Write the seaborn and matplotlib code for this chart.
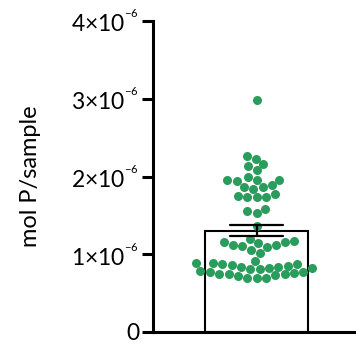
import numpy as np
import pandas as pd
import matplotlib
matplotlib.use("Agg")
import matplotlib.pyplot as plt
import seaborn as sns

# --- values (mol P per sample, in units of 1e-6) ---
upper_vals = [2.98, 2.26, 2.23, 2.16, 2.14, 2.08, 1.94, 2.00, 1.96, 1.96, 1.96,
              1.86, 1.84, 1.87, 1.89, 1.73, 1.74, 1.78, 1.73, 1.75, 1.53, 1.58,
              1.56, 1.36]
middle_vals = [1.20, 1.17, 1.12, 1.16, 1.10, 1.14, 1.12, 1.09, 1.16, 1.06, 1.01]
lower_vals = [0.91, 0.83, 0.75, 0.79, 0.82, 0.82, 0.81, 0.85, 0.88, 0.84, 0.89,
              0.81, 0.86, 0.87, 0.89, 0.70, 0.70, 0.74, 0.70, 0.76, 0.77, 0.72,
              0.73, 0.75, 0.77]

y_ticks = [0, 1e-6, 2e-6, 3e-6, 4e-6]
y_tick_labels = ["0", r"$1{\times}10^{{}^{-6}}$", r"$2{\times}10^{{}^{-6}}$",
                 r"$3{\times}10^{{}^{-6}}$", r"$4{\times}10^{{}^{-6}}$"]
y_label = "mol P/sample"
point_color = "#2a9d5c"

values = np.array(upper_vals + middle_vals + lower_vals) * 1e-6
df = pd.DataFrame({"group": [""] * len(values), "mol": values})

sns.set_style("ticks")
plt.rcParams["font.family"] = ["Lato", "DejaVu Sans"]
plt.rcParams["mathtext.fontset"] = "custom"
plt.rcParams["mathtext.rm"] = "Lato"
plt.rcParams["mathtext.it"] = "Lato:italic"
plt.rcParams["mathtext.bf"] = "Lato:bold"
plt.rcParams["text.color"] = "black"
plt.rcParams["axes.labelcolor"] = "black"
plt.rcParams["ytick.color"] = "black"
plt.rcParams["xtick.color"] = "black"

fig = plt.figure(figsize=(3.56, 3.45), dpi=100)
ax = fig.add_axes([153 / 356, 13 / 345, 1 - 153 / 356, (332 - 21) / 345])

# bar = mean, error bar = SEM
sns.barplot(data=df, x="group", y="mol", errorbar="se", width=0.505,
            color="white", edgecolor="black", linewidth=1.5,
            capsize=0.26, err_kws={"color": "black", "linewidth": 1.6},
            ax=ax, zorder=1)
sns.swarmplot(data=df, x="group", y="mol", color=point_color, size=6.5,
              linewidth=0, ax=ax, zorder=2)

for ln in ax.lines:
    ln.set_zorder(3)

ax.set_ylim(0, 4e-6)
ax.set_xlim(-0.51, 0.49)
ax.set_yticks(y_ticks)
ax.set_yticklabels(y_tick_labels, fontsize=16.5)
ax.set_xticks([])
ax.set_xlabel("")
ax.set_ylabel(y_label, fontsize=17, labelpad=22)

for side in ["top", "right"]:
    ax.spines[side].set_visible(False)
for side in ["left", "bottom"]:
    ax.spines[side].set_linewidth(2.2)
    ax.spines[side].set_color("black")
ax.tick_params(axis="y", length=8, width=2.2, color="black",
               labelcolor="black", pad=2)

fig.savefig("out.png", dpi=100)
